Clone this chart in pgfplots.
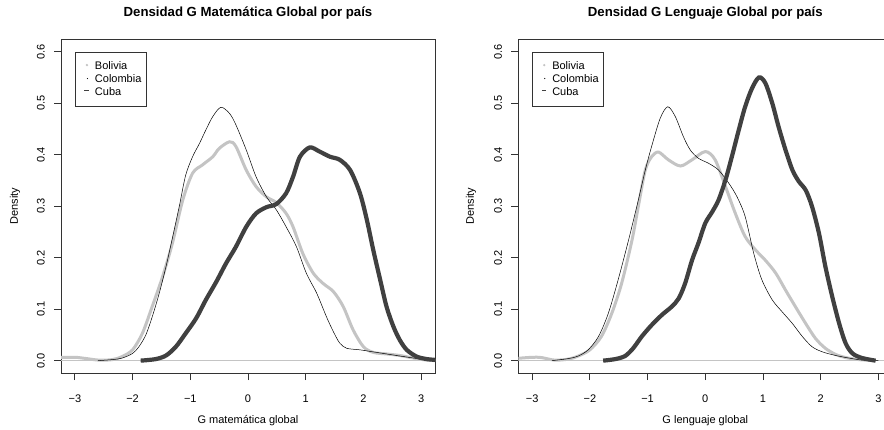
\documentclass[border=0pt]{standalone}
\usepackage{fontspec}
\setmainfont{Liberation Sans}
\usepackage{pgfplots}
\usepackage{pgfplotstable}
\pgfplotsset{compat=1.18}
\definecolor{bolcol}{HTML}{C4C4C4}
\definecolor{cubcol}{HTML}{404040}
\definecolor{boxcol}{HTML}{333333}

\pgfplotstableread{
x y
-3.30 0.006
-3.00 0.0065
-2.80 0.004
-2.58 0.001
-2.35 0.002
-2.18 0.008
-2.00 0.021
-1.83 0.053
-1.66 0.105
-1.48 0.163
-1.31 0.228
-1.13 0.312
-0.96 0.364
-0.79 0.380
-0.61 0.396
-0.50 0.412
-0.32 0.425
-0.21 0.416
-0.03 0.370
0.14 0.338
0.32 0.318
0.49 0.307
0.66 0.286
0.78 0.260
0.95 0.208
1.13 0.170
1.30 0.150
1.48 0.134
1.65 0.105
1.82 0.060
2.00 0.027
2.17 0.016
2.40 0.013
2.63 0.010
2.87 0.005
3.10 0.001
3.30 0.000
}\matBol

\pgfplotstableread{
x y
-2.60 0.000
-2.35 0.002
-2.18 0.005
-2.00 0.014
-1.89 0.027
-1.77 0.050
-1.66 0.085
-1.54 0.130
-1.42 0.183
-1.31 0.238
-1.19 0.300
-1.08 0.360
-0.96 0.396
-0.84 0.422
-0.73 0.448
-0.61 0.474
-0.47 0.492
-0.32 0.480
-0.21 0.458
-0.03 0.409
0.14 0.357
0.32 0.318
0.49 0.293
0.66 0.260
0.84 0.221
1.01 0.170
1.19 0.131
1.36 0.085
1.48 0.056
1.59 0.034
1.71 0.024
1.94 0.021
2.17 0.017
2.40 0.013
2.63 0.009
2.87 0.005
3.10 0.001
3.30 0.000
}\matCol

\pgfplotstableread{
x y
-1.86 0.000
-1.60 0.003
-1.42 0.010
-1.25 0.027
-1.08 0.053
-0.90 0.082
-0.73 0.118
-0.55 0.153
-0.38 0.189
-0.21 0.221
-0.03 0.260
0.14 0.286
0.32 0.298
0.49 0.304
0.66 0.325
0.78 0.357
0.90 0.396
1.07 0.414
1.24 0.406
1.42 0.396
1.59 0.390
1.77 0.370
1.94 0.325
2.06 0.273
2.17 0.215
2.29 0.157
2.40 0.105
2.52 0.066
2.63 0.040
2.75 0.021
2.92 0.008
3.10 0.003
3.30 0.001
}\matCub

\pgfplotstableread{
x y
-3.30 0.004
-3.00 0.0065
-2.84 0.006
-2.61 0.001
-2.37 0.003
-2.20 0.009
-2.00 0.021
-1.80 0.047
-1.62 0.092
-1.45 0.150
-1.27 0.234
-1.16 0.300
-1.04 0.370
-0.93 0.396
-0.81 0.405
-0.64 0.390
-0.43 0.378
-0.23 0.390
0.00 0.406
0.17 0.390
0.35 0.338
0.52 0.286
0.69 0.241
0.87 0.215
1.04 0.195
1.22 0.170
1.39 0.137
1.56 0.105
1.74 0.072
1.91 0.043
2.08 0.024
2.26 0.012
2.43 0.006
2.66 0.002
2.95 0.000
}\lenBol

\pgfplotstableread{
x y
-2.66 0.000
-2.37 0.004
-2.20 0.009
-2.03 0.021
-1.85 0.047
-1.68 0.092
-1.51 0.157
-1.33 0.234
-1.16 0.312
-1.04 0.370
-0.93 0.416
-0.78 0.471
-0.65 0.493
-0.52 0.474
-0.38 0.435
-0.26 0.409
-0.12 0.393
0.06 0.383
0.23 0.370
0.41 0.344
0.55 0.318
0.69 0.280
0.84 0.208
0.98 0.157
1.16 0.118
1.33 0.095
1.51 0.072
1.68 0.047
1.85 0.027
2.03 0.017
2.26 0.010
2.49 0.005
2.72 0.001
3.00 0.000
}\lenCol

\pgfplotstableread{
x y
-1.77 0.000
-1.56 0.003
-1.39 0.009
-1.25 0.024
-1.10 0.047
-0.93 0.069
-0.75 0.089
-0.58 0.105
-0.46 0.121
-0.35 0.150
-0.23 0.195
-0.12 0.228
0.00 0.267
0.12 0.289
0.23 0.312
0.35 0.351
0.46 0.396
0.58 0.448
0.69 0.493
0.81 0.529
0.93 0.550
1.04 0.539
1.16 0.500
1.27 0.454
1.39 0.409
1.51 0.370
1.62 0.348
1.74 0.331
1.85 0.299
1.97 0.247
2.08 0.183
2.20 0.124
2.32 0.072
2.43 0.034
2.55 0.014
2.72 0.005
2.95 0.000
}\lenCub

\newcommand{\rfont}{\fontsize{11}{13}\selectfont}

\pgfplotsset{
  rplot/.style={
    scale only axis, width=374pt, height=333.7pt, anchor=south west,
    xmin=-3.24, xmax=3.24, ymin=-0.024, ymax=0.624,
    axis line style={draw=boxcol, line width=0.8pt},
    xtick={-3,-2,-1,0,1,2,3},
    xticklabels={−3,−2,−1,0,1,2,3},
    ytick={0,0.1,0.2,0.3,0.4,0.5,0.6},
    yticklabels={0.0,0.1,0.2,0.3,0.4,0.5,0.6},
    tick align=outside, xtick pos=bottom, ytick pos=left,
    major tick length=7pt,
    tick style={draw=boxcol, line width=0.8pt},
    ticklabel style={font=\rfont, inner sep=0pt},
    yticklabel style={rotate=90, anchor=south},
    xticklabel style={anchor=north},
    xticklabel shift=14.5pt, yticklabel shift=9pt,
    legend style={at={(axis cs:-3,0.6)}, anchor=north west, draw=boxcol, line width=0.8pt,
      fill=white, font=\rfont, inner xsep=2.7pt, inner ysep=9.5pt, row sep=4pt,
      nodes={inner xsep=2pt, inner ysep=0pt, text height=8pt, text depth=1pt}},
    legend cell align=left,
  },
  bol/.style={color=bolcol, line width=3pt, smooth, no marks,
    legend image code/.code={\path[draw=none,fill=none] (0pt,0pt) -- (12pt,0pt); \fill[bolcol,draw=none] (9pt,1pt) circle (1.3pt);}},
  col/.style={color=black, line width=0.5pt, smooth, no marks,
    legend image code/.code={\path[draw=none,fill=none] (0pt,0pt) -- (12pt,0pt); \fill[black,draw=none] (9.5pt,0.5pt) circle (0.6pt);}},
  cub/.style={color=cubcol, line width=4.2pt, smooth, no marks,
    legend image code/.code={\path[draw=none,fill=none] (0pt,0pt) -- (12pt,0pt); \draw[cubcol, line width=1.3pt] (6.5pt,1.5pt) -- (11pt,1.5pt);}},
  zl/.style={color=bolcol, line width=0.6pt, forget plot},
}

\begin{document}
\begin{tikzpicture}
\useasboundingbox (0pt,0pt) rectangle (884pt,429pt);
\fill[white] (0pt,0pt) rectangle (884pt,429pt);

\begin{axis}[rplot, at={(61pt,56pt)}]
\addplot[zl] coordinates {(-3.3,0) (3.3,0)};
\addplot[bol] table {\matBol};
\addlegendentry{\hspace{3pt}Bolivia}
\addplot[col] table {\matCol};
\addlegendentry{\hspace{3pt}Colombia}
\addplot[cub] table {\matCub};
\addlegendentry{\hspace{3pt}Cuba}
\end{axis}

\begin{axis}[rplot, at={(518.3pt,56pt)}]
\addplot[zl] coordinates {(-3.3,0) (3.3,0)};
\addplot[bol] table {\lenBol};
\addlegendentry{\hspace{3pt}Bolivia}
\addplot[col] table {\lenCol};
\addlegendentry{\hspace{3pt}Colombia}
\addplot[cub] table {\lenCub};
\addlegendentry{\hspace{3pt}Cuba}
\end{axis}

\node[font=\fontsize{13.2}{15}\selectfont\bfseries] at (248pt,415.7pt) {Densidad G Matemática Global por país};
\node[font=\fontsize{13.2}{15}\selectfont\bfseries] at (705.3pt,415.7pt) {Densidad G Lenguaje Global por país};
\node[font=\rfont] at (248pt,8pt) {G matemática global};
\node[font=\rfont] at (705.3pt,8pt) {G lenguaje global};
\node[font=\rfont, rotate=90] at (15pt,222.8pt) {Density};
\node[font=\rfont, rotate=90] at (471pt,222.8pt) {Density};
\end{tikzpicture}
\end{document}
